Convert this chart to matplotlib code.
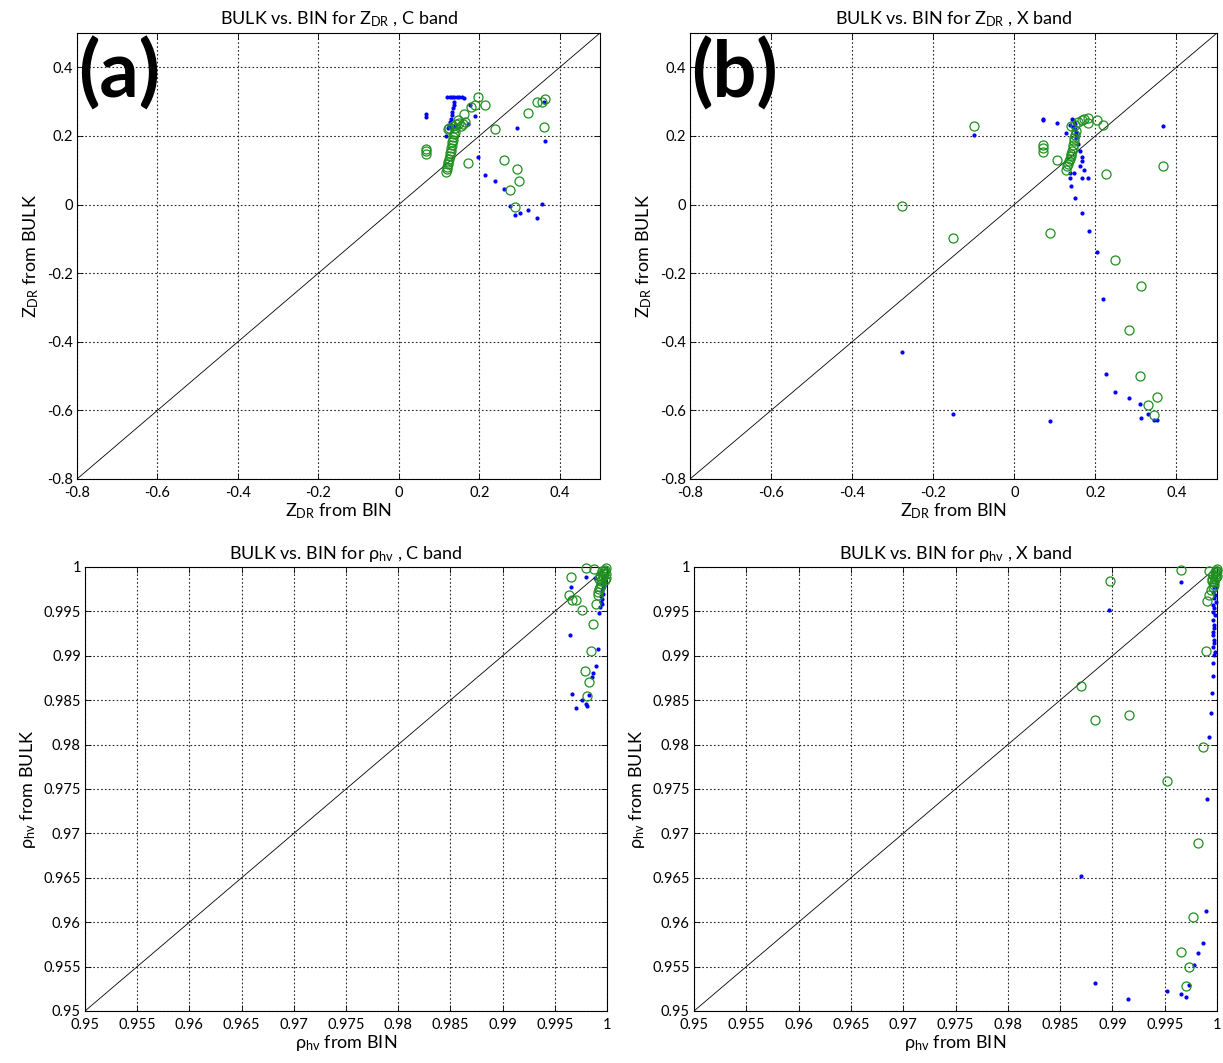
import matplotlib
matplotlib.use("Agg")
import matplotlib.pyplot as plt
from matplotlib.ticker import FixedLocator, FixedFormatter

plt.rcParams['font.family'] = ['Lato', 'DejaVu Sans']
plt.rcParams['mathtext.fontset'] = 'custom'
plt.rcParams['mathtext.rm'] = 'Lato'
plt.rcParams['mathtext.it'] = 'Lato:italic'
plt.rcParams['mathtext.bf'] = 'Lato:bold'

# ---------------- data ----------------
zdr_ticks = [-0.8, -0.6, -0.4, -0.2, 0.0, 0.2, 0.4]
zdr_labels = ['-0.8', '-0.6', '-0.4', '-0.2', '0', '0.2', '0.4']
rho_ticks = [0.95, 0.955, 0.96, 0.965, 0.97, 0.975, 0.98, 0.985, 0.99, 0.995, 1.0]
rho_labels = ['0.95', '0.955', '0.96', '0.965', '0.97', '0.975', '0.98', '0.985', '0.99', '0.995', '1']

# Panel (a): ZDR, C band
blue_a_x = [0.120, 0.126, 0.132, 0.138, 0.144, 0.150, 0.156, 0.162,
            0.137, 0.136, 0.134, 0.133, 0.131, 0.129, 0.127, 0.125, 0.123, 0.130, 0.140,
            0.067, 0.067, 0.177, 0.189, 0.171, 0.117, 0.294, 0.361, 0.363, 0.196, 0.214,
            0.239, 0.262, 0.276, 0.289, 0.300, 0.321, 0.343, 0.355]
blue_a_y = [0.312, 0.313, 0.312, 0.313, 0.312, 0.313, 0.312, 0.311,
            0.300, 0.290, 0.280, 0.270, 0.260, 0.250, 0.240, 0.230, 0.222, 0.225, 0.228,
            0.265, 0.254, 0.290, 0.257, 0.236, 0.200, 0.222, 0.300, 0.184, 0.138, 0.087,
            0.068, 0.044, -0.003, -0.030, -0.024, -0.017, -0.038, 0.003]
green_a_x = [0.196, 0.189, 0.179, 0.214, 0.162, 0.239, 0.343, 0.355, 0.363, 0.321, 0.361,
             0.067, 0.067, 0.067, 0.172, 0.262, 0.294, 0.299, 0.276, 0.289,
             0.117, 0.119, 0.120, 0.122, 0.123, 0.124, 0.126, 0.127, 0.129, 0.130, 0.131,
             0.133, 0.134, 0.135, 0.137, 0.139,
             0.124, 0.134, 0.142, 0.149, 0.159, 0.147, 0.122, 0.155, 0.140, 0.165]
green_a_y = [0.313, 0.290, 0.283, 0.289, 0.265, 0.219, 0.300, 0.298, 0.309, 0.268, 0.225,
             0.163, 0.155, 0.146, 0.122, 0.131, 0.105, 0.070, 0.041, -0.006,
             0.096, 0.103, 0.110, 0.117, 0.125, 0.133, 0.141, 0.149, 0.157, 0.165, 0.173,
             0.181, 0.189, 0.197, 0.205, 0.212,
             0.222, 0.230, 0.236, 0.239, 0.236, 0.245, 0.219, 0.228, 0.222, 0.242]

# Panel (b): ZDR, X band
blue_b_x = [-0.099, -0.278, -0.151, 0.072, 0.072, 0.105, 0.128, 0.367,
            0.143, 0.137, 0.151, 0.153, 0.156, 0.161, 0.168, 0.166, 0.161, 0.172, 0.137,
            0.148, 0.137, 0.166, 0.181, 0.141, 0.149, 0.166, 0.184, 0.203, 0.218,
            0.145, 0.148, 0.150, 0.146, 0.150, 0.152,
            0.226, 0.248, 0.282, 0.309, 0.330, 0.312, 0.344, 0.353, 0.089]
blue_b_y = [0.204, -0.429, -0.611, 0.250, 0.247, 0.237, 0.208, 0.228,
            0.250, 0.233, 0.211, 0.194, 0.176, 0.155, 0.140, 0.126, 0.113, 0.100, 0.092,
            0.092, 0.077, 0.076, 0.077, 0.055, 0.019, -0.026, -0.078, -0.138, -0.275,
            0.245, 0.240, 0.235, 0.225, 0.220, 0.205,
            -0.493, -0.546, -0.563, -0.582, -0.611, -0.622, -0.627, -0.627, -0.632]
green_b_x = [-0.099, -0.278, -0.151, 0.071, 0.071, 0.071, 0.105, 0.366, 0.225, 0.182,
             0.203, 0.218, 0.181, 0.166, 0.158, 0.149, 0.141, 0.172,
             0.151, 0.148, 0.145, 0.143, 0.139, 0.135, 0.131, 0.128,
             0.150, 0.147, 0.144, 0.141, 0.137, 0.133,
             0.088, 0.248, 0.312, 0.282, 0.309, 0.353, 0.330, 0.344]
green_b_y = [0.230, -0.004, -0.097, 0.175, 0.165, 0.153, 0.131, 0.111, 0.089, 0.252,
             0.245, 0.233, 0.237, 0.247, 0.240, 0.233, 0.228, 0.250,
             0.213, 0.194, 0.175, 0.155, 0.141, 0.126, 0.111, 0.100,
             0.204, 0.185, 0.165, 0.148, 0.133, 0.118,
             -0.084, -0.162, -0.238, -0.367, -0.501, -0.560, -0.584, -0.613]

# Panel (c): rho_hv, C band
blue_c_x = [0.99799, 0.99885, 0.99655, 0.99920, 0.99646, 0.99911, 0.99895, 0.99863,
            0.99852, 0.99668, 0.99828, 0.99758, 0.99796, 0.99806, 0.99703,
            0.99960, 0.99970, 0.99955, 0.99975, 0.99960, 0.99950, 0.99965, 0.99945,
            0.99955, 0.99940, 0.99950, 0.99935, 0.99985, 0.99990]
blue_c_y = [0.99884, 0.99873, 0.99771, 0.99479, 0.99234, 0.99073, 0.98885, 0.98810,
            0.98758, 0.98566, 0.98559, 0.98502, 0.98454, 0.98438, 0.98416,
            0.99880, 0.99850, 0.99820, 0.99790, 0.99760, 0.99730, 0.99700, 0.99670,
            0.99640, 0.99610, 0.99580, 0.99550, 0.99830, 0.99900]
green_c_x = [0.99799, 0.99875, 0.99652, 0.99639, 0.99668, 0.99703, 0.99758, 0.99895,
             0.99917, 0.99863, 0.99845, 0.99792, 0.99823, 0.99806,
             0.99990, 0.99985, 0.99975, 0.99970, 0.99960, 0.99955, 0.99945, 0.99940,
             0.99930, 0.99925, 0.99915, 0.99995, 0.99990, 0.99980, 0.99950, 0.99935, 0.99920]
green_c_y = [0.99985, 0.99977, 0.99891, 0.99685, 0.99628, 0.99628, 0.99516, 0.99583,
             0.99685, 0.99358, 0.99054, 0.98829, 0.98709, 0.98547,
             0.99990, 0.99970, 0.99950, 0.99930, 0.99900, 0.99870, 0.99840, 0.99810,
             0.99780, 0.99750, 0.99720, 0.99920, 0.99880, 0.99850, 0.99960, 0.99900, 0.99860]

# Panel (d): rho_hv, X band
blue_d_x = [0.99656, 0.98967, 0.98700, 0.98834, 0.99149, 0.99965, 0.99965, 0.99952,
            0.99940, 0.99924, 0.99902, 0.99892, 0.99869, 0.99821, 0.99777, 0.99732,
            0.99525, 0.99656, 0.99701,
            0.99970, 0.99960, 0.99980, 0.99970, 0.99990, 0.99960, 0.99975, 0.99965,
            0.99980, 0.99960, 0.99970, 0.99975, 0.99965, 0.99960, 0.99970, 0.99975,
            0.99965, 0.99980, 0.99970, 0.99993]
blue_d_y = [0.99834, 0.99516, 0.96520, 0.95315, 0.95135, 0.98916, 0.98773, 0.98578,
            0.98359, 0.98089, 0.97387, 0.96130, 0.95769, 0.95657, 0.95518, 0.95293,
            0.95228, 0.95191, 0.95154,
            0.99778, 0.99722, 0.99685, 0.99647, 0.99610, 0.99572, 0.99535, 0.99497,
            0.99459, 0.99403, 0.99347, 0.99309, 0.99272, 0.99234, 0.99178, 0.99141,
            0.99096, 0.99046, 0.99009, 0.99778]
green_d_x = [0.99656, 0.99926, 0.98977, 0.98700, 0.98834, 0.99159, 0.99522, 0.99821,
             0.99773, 0.99659, 0.99735, 0.99701, 0.99869, 0.99895, 0.99943, 0.99926, 0.99902,
             1.00000, 0.99995, 0.99990, 0.99985, 0.99975, 0.99970, 0.99960, 1.00000,
             0.99990, 0.99980, 0.99965, 0.99955, 0.99950, 1.00000]
green_d_y = [0.99966, 0.99958, 0.99842, 0.98660, 0.98277, 0.98333, 0.97594, 0.96895,
             0.96062, 0.95664, 0.95499, 0.95285, 0.97977, 0.99058, 0.99741, 0.99685, 0.99620,
             0.99950, 0.99920, 0.99890, 0.99860, 0.99830, 0.99800, 0.99780, 0.99980,
             0.99960, 0.99940, 0.99910, 0.99870, 0.99840, 0.99900]

# ---------------- figure ----------------
fig = plt.figure(figsize=(12.23, 10.63), dpi=100)

panels = [
    dict(rect=[77/1223, 1-479/1063, (600-77)/1223, (479-33)/1063],
         lim=(-0.8, 0.5), ticks=zdr_ticks, labels=zdr_labels,
         bx=blue_a_x, by=blue_a_y, gx=green_a_x, gy=green_a_y,
         title=r'BULK vs. BIN for Z$_{\mathrm{DR}}$ , C band',
         xl=r'Z$_{\mathrm{DR}}$ from BIN', yl=r'Z$_{\mathrm{DR}}$ from BULK', tag='(a)'),
    dict(rect=[690/1223, 1-479/1063, (1217-690)/1223, (479-33)/1063],
         lim=(-0.8, 0.5), ticks=zdr_ticks, labels=zdr_labels,
         bx=blue_b_x, by=blue_b_y, gx=green_b_x, gy=green_b_y,
         title=r'BULK vs. BIN for Z$_{\mathrm{DR}}$ , X band',
         xl=r'Z$_{\mathrm{DR}}$ from BIN', yl=r'Z$_{\mathrm{DR}}$ from BULK', tag='(b)'),
    dict(rect=[85/1223, 1-1011/1063, (607-85)/1223, (1011-567)/1063],
         lim=(0.95, 1.0), ticks=rho_ticks, labels=rho_labels,
         bx=blue_c_x, by=blue_c_y, gx=green_c_x, gy=green_c_y,
         title=r'BULK vs. BIN for ρ$_{\mathrm{hv}}$ , C band',
         xl=r'ρ$_{\mathrm{hv}}$ from BIN', yl=r'ρ$_{\mathrm{hv}}$ from BULK', tag=None),
    dict(rect=[694/1223, 1-1011/1063, (1217-694)/1223, (1011-567)/1063],
         lim=(0.95, 1.0), ticks=rho_ticks, labels=rho_labels,
         bx=blue_d_x, by=blue_d_y, gx=green_d_x, gy=green_d_y,
         title=r'BULK vs. BIN for ρ$_{\mathrm{hv}}$ , X band',
         xl=r'ρ$_{\mathrm{hv}}$ from BIN', yl=r'ρ$_{\mathrm{hv}}$ from BULK', tag=None),
]

green = '#1f8f1f'
for p in panels:
    ax = fig.add_axes(p['rect'])
    lo, hi = p['lim']
    ax.set_xlim(lo, hi)
    ax.set_ylim(lo, hi)
    ax.plot([lo, hi], [lo, hi], color='k', lw=0.6, zorder=2)
    ax.plot(p['bx'], p['by'], linestyle='none', marker='.', markersize=4,
            color='#0000ff', clip_on=False, zorder=3)
    ax.plot(p['gx'], p['gy'], linestyle='none', marker='o', markersize=6.5,
            markerfacecolor='none', markeredgecolor=green, markeredgewidth=0.9,
            clip_on=False, zorder=4)
    ax.xaxis.set_major_locator(FixedLocator(p['ticks']))
    ax.xaxis.set_major_formatter(FixedFormatter(p['labels']))
    ax.yaxis.set_major_locator(FixedLocator(p['ticks']))
    ax.yaxis.set_major_formatter(FixedFormatter(p['labels']))
    ax.grid(True, color='0.15', linestyle=(0, (1.5, 2.0)), linewidth=0.8)
    ax.set_axisbelow(True)
    ax.tick_params(direction='in', length=4, width=0.6, labelsize=10.5,
                   top=True, right=True)
    ax.tick_params(axis='x', pad=5)
    ax.tick_params(axis='y', pad=3)
    for s in ax.spines.values():
        s.set_linewidth(0.8)
    ax.set_title(p['title'], fontsize=13, pad=6)
    ax.set_xlabel(p['xl'], fontsize=13, labelpad=1)
    ax.set_ylabel(p['yl'], fontsize=13, labelpad=4)
    if p['tag']:
        ax.text(0.003, 0.99, p['tag'], transform=ax.transAxes, fontsize=56,
                fontweight='bold', va='top', ha='left', zorder=6)

fig.savefig('out.png', dpi=100)
